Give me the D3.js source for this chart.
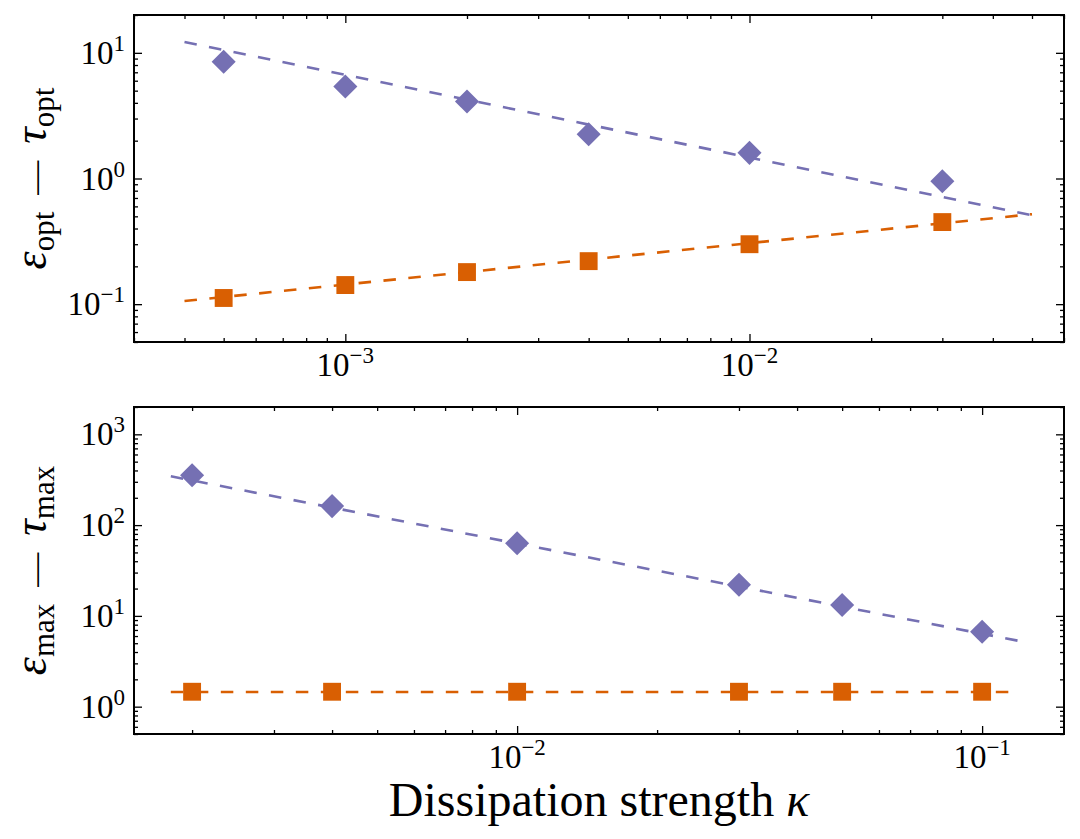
<!DOCTYPE html>
<html>
<head>
<meta charset="utf-8">
<script src="https://cdn.jsdelivr.net/npm/d3@7"></script>
<style>
  body { margin: 0; background: #fff; }
  svg { display: block; }
  svg text { font-family: 'Liberation Serif', 'Times New Roman', 'DejaVu Serif', serif; }
</style>
</head>
<body>
<svg id="chart" width="1080" height="839"></svg>
<script>
// ---- data ----
// top panel: optimal values
const kappaTop = [0.0005, 0.001, 0.002, 0.004, 0.01, 0.03];
const tauOpt = [8.5, 5.4, 4.1, 2.25, 1.6, 0.95];
const epsOpt = [0.112, 0.142, 0.18, 0.22, 0.30, 0.45];
const fitTopKappa = [0.0004, 0.05];
const tauOptFit = [12.2, 0.51];
const epsOptFit = [0.106, 0.52];

// bottom panel: maximal values
const kappaBot = [0.002, 0.004, 0.01, 0.03, 0.05, 0.1];
const tauMax = [354, 162, 63, 22, 13.2, 6.7];
const epsMax = [1.46, 1.46, 1.46, 1.46, 1.46, 1.46];
const fitBotKappa = [0.0018, 0.12];
const tauMaxFit = [345, 5.3];
const epsMaxFit = [1.45, 1.45];

const purple = '#7570b3';
const orange = '#d95f02';
const serif = "'Liberation Serif', 'Times New Roman', 'DejaVu Serif', serif";

const svg = d3.select('#chart');
const left = 134, right = 1064;

function decadeTicks(domain, ks) {
  const out = [];
  const e0 = Math.floor(Math.log10(domain[0])) - 1;
  const e1 = Math.ceil(Math.log10(domain[1])) + 1;
  for (let e = e0; e <= e1; e++) {
    ks.forEach(k => {
      const v = k * Math.pow(10, e);
      if (v >= domain[0] * 0.9999 && v <= domain[1] * 1.0001) out.push(v);
    });
  }
  return out;
}

function powLabel(sel, v) {
  const e = Math.round(Math.log10(v));
  sel.append('tspan').text('10');
  sel.append('tspan')
    .attr('dy', -13)
    .attr('font-size', 23)
    .text(e < 0 ? '\u2212' + (-e) : String(e));
}

function drawPanel(opt) {
  const g = svg.append('g');
  const x = d3.scaleLog().domain(opt.xDomain).range([left, right]);
  const y = d3.scaleLog().domain(opt.yDomain).range([opt.bottom, opt.top]);

  const xMajor = decadeTicks(opt.xDomain, [1]);
  const xMinor = decadeTicks(opt.xDomain, [2, 3, 4, 5, 6, 7, 8, 9]);
  const yMajor = decadeTicks(opt.yDomain, [1]);
  const yMinor = decadeTicks(opt.yDomain, [2, 3, 4, 5, 6, 7, 8, 9]);

  // inward ticks on all four sides
  const sides = [
    [d3.axisBottom, x, `translate(0,${opt.bottom})`, xMajor, xMinor],
    [d3.axisTop, x, `translate(0,${opt.top})`, xMajor, xMinor],
    [d3.axisLeft, y, `translate(${left},0)`, yMajor, yMinor],
    [d3.axisRight, y, `translate(${right},0)`, yMajor, yMinor]
  ];
  sides.forEach(([axisFn, scale, tr, major, minor]) => {
    [[major, -8], [minor, -4]].forEach(([vals, size]) => {
      g.append('g')
        .attr('transform', tr)
        .call(axisFn(scale).tickValues(vals).tickSize(size).tickFormat(''))
        .call(a => a.select('.domain').remove())
        .call(a => a.selectAll('text').remove())
        .call(a => a.selectAll('line').attr('stroke', '#000').attr('stroke-width', 1.3));
    });
  });

  // tick labels
  xMajor.forEach(v => {
    g.append('text')
      .attr('x', x(v)).attr('y', opt.bottom + 34)
      .attr('text-anchor', 'middle')
      .attr('font-family', serif)
      .attr('font-size', 33)
      .call(powLabel, v);
  });
  yMajor.forEach(v => {
    g.append('text')
      .attr('x', left - 9).attr('y', y(v) + 11)
      .attr('text-anchor', 'end')
      .attr('font-family', serif)
      .attr('font-size', 33)
      .call(powLabel, v);
  });

  // dashed fit lines
  const line = d3.line().x(d => x(d[0])).y(d => y(d[1]));
  opt.fits.forEach(f => {
    g.append('path')
      .datum(d3.zip(f.xs, f.ys))
      .attr('d', line)
      .attr('fill', 'none')
      .attr('stroke', f.color)
      .attr('stroke-width', 2.6)
      .attr('stroke-dasharray', '12.5,12.5');
  });

  // markers
  const diamond = d3.symbol().type(d3.symbolSquare).size(290);
  const square = d3.symbol().type(d3.symbolSquare).size(320);
  g.selectAll('.dia')
    .data(d3.zip(opt.xs, opt.tau))
    .join('path')
    .attr('class', 'dia')
    .attr('d', diamond)
    .attr('fill', purple)
    .attr('transform', d => `translate(${x(d[0])},${y(d[1])}) rotate(45)`);
  g.selectAll('.sq')
    .data(d3.zip(opt.xs, opt.eps))
    .join('path')
    .attr('class', 'sq')
    .attr('d', square)
    .attr('fill', orange)
    .attr('transform', d => `translate(${x(d[0])},${y(d[1])})`);

  // frame
  g.append('rect')
    .attr('x', left).attr('y', opt.top)
    .attr('width', right - left).attr('height', opt.bottom - opt.top)
    .attr('fill', 'none').attr('stroke', '#000').attr('stroke-width', 2);

  // y label
  const cy = (opt.top + opt.bottom) / 2;
  const lab = g.append('text')
    .attr('transform', `translate(46,${cy}) rotate(-90)`)
    .attr('text-anchor', 'middle')
    .attr('font-family', serif)
    .attr('font-size', 46);
  lab.append('tspan').attr('font-style', 'italic').text('\u03b5');
  lab.append('tspan').attr('font-size', 31).attr('dy', 8).text(opt.sub);
  lab.append('tspan').attr('font-size', 34).attr('dy', -8).text('\u2002\u2014\u2002');
  lab.append('tspan').attr('font-style', 'italic').text('\u03c4');
  lab.append('tspan').attr('font-size', 31).attr('dy', 8).text(opt.sub);
}

drawPanel({
  top: 15, bottom: 342,
  xDomain: [0.0003, 0.06], yDomain: [0.05, 20],
  xs: kappaTop, tau: tauOpt, eps: epsOpt, sub: 'opt',
  fits: [
    { xs: fitTopKappa, ys: tauOptFit, color: purple },
    { xs: fitTopKappa, ys: epsOptFit, color: orange }
  ]
});

drawPanel({
  top: 407, bottom: 734,
  xDomain: [0.0015, 0.15], yDomain: [0.5, 2000],
  xs: kappaBot, tau: tauMax, eps: epsMax, sub: 'max',
  fits: [
    { xs: fitBotKappa, ys: tauMaxFit, color: purple },
    { xs: fitBotKappa, ys: epsMaxFit, color: orange }
  ]
});

// x label
const xl = svg.append('text')
  .attr('x', (left + right) / 2).attr('y', 816)
  .attr('text-anchor', 'middle')
  .attr('font-family', serif)
  .attr('font-size', 48);
xl.append('tspan').text('Dissipation strength ');
xl.append('tspan').attr('font-style', 'italic').text('\u03ba');
</script>
</body>
</html>
